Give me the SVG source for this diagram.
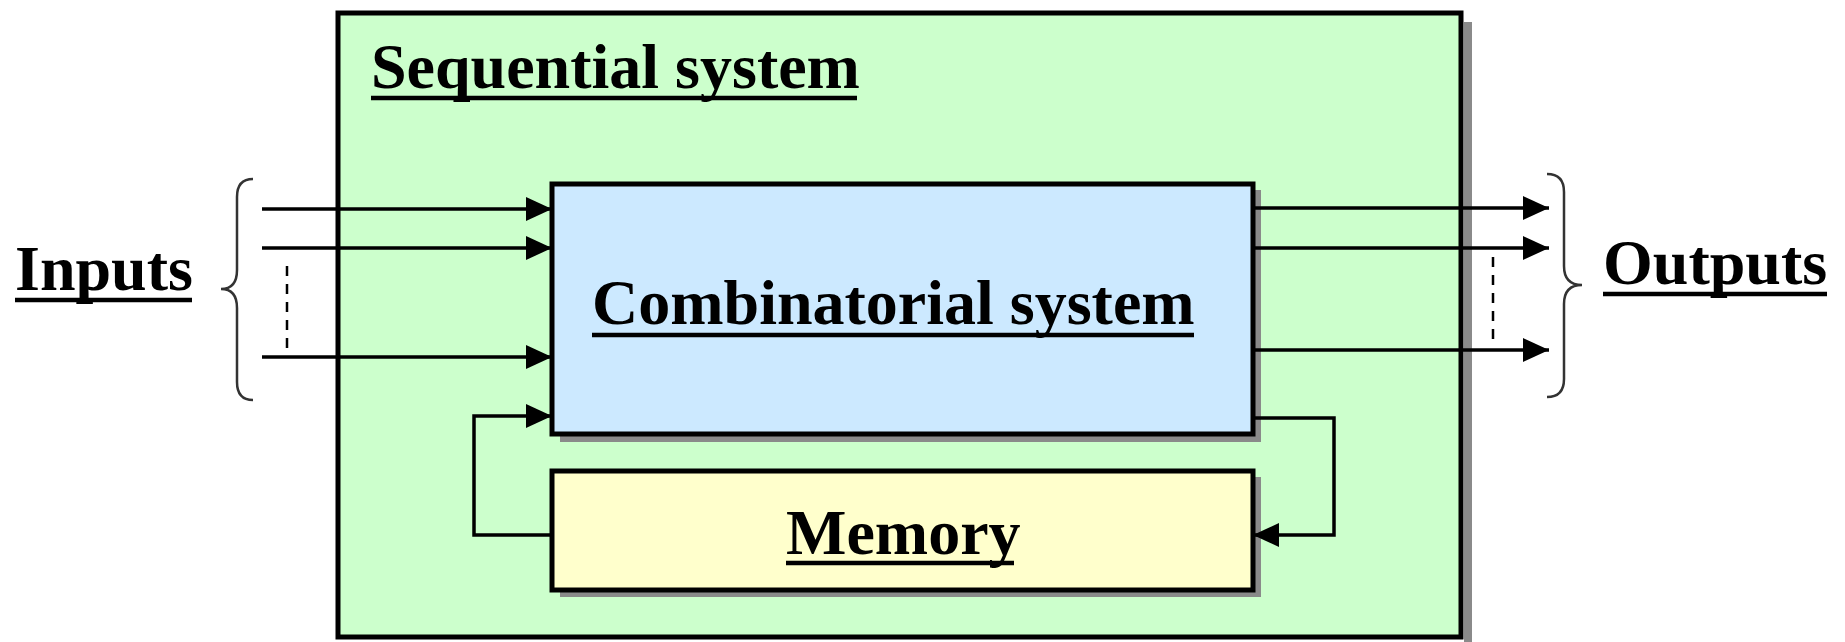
<svg xmlns="http://www.w3.org/2000/svg" width="1845" height="642" viewBox="0 0 1845 642">
<defs>
<marker id="ah" markerUnits="userSpaceOnUse" markerWidth="26" markerHeight="24" refX="26" refY="12" orient="auto">
<path d="M0,0 L26,12 L0,24 Z" fill="#000"/>
</marker>
</defs>
<style>
.lbl{font-family:"Liberation Serif","Times New Roman",serif;font-weight:bold;font-size:64px;fill:#000}
.ul{stroke:#000;stroke-width:4.5}
.shadow{fill:#8a8a8a}
.box{stroke:#000;stroke-width:5}
.wire{fill:none;stroke:#000;stroke-width:3.5}
.brace{fill:none;stroke:#333;stroke-width:2.5}
.dash{fill:none;stroke:#000;stroke-width:2.5;stroke-dasharray:10 8}
</style>
<rect width="1845" height="642" fill="#fff"/>

<g id="sequential-system">
<rect class="shadow" x="1464" y="22" width="8" height="620"/>
<rect class="box" x="338" y="13" width="1123" height="624" fill="#CCFFCC"/>
<text class="lbl" x="371" y="88">Sequential system</text>
<line class="ul" x1="371" y1="98" x2="857" y2="98"/>
</g>

<g id="combinatorial-system">
<rect class="shadow" x="560" y="190" width="701" height="252"/>
<rect class="box" x="552" y="184" width="701" height="250" fill="#CCE9FF"/>
<text class="lbl" x="592" y="324">Combinatorial system</text>
<line class="ul" x1="592" y1="335" x2="1194" y2="335"/>
</g>

<g id="memory">
<rect class="shadow" x="560" y="477" width="701" height="120"/>
<rect class="box" x="552" y="471" width="701" height="119" fill="#FFFFCC"/>
<text class="lbl" x="786" y="554">Memory</text>
<line class="ul" x1="786" y1="563" x2="1014" y2="563"/>
</g>

<g id="inputs">
<text class="lbl" x="15" y="290">Inputs</text>
<line class="ul" x1="15" y1="300" x2="192" y2="300"/>
<path class="brace" d="M253,179 Q237,179 237,197 L237,270 Q237,289 221,289 Q237,289 237,308 L237,382 Q237,400 253,400"/>
</g>

<g id="outputs">
<text class="lbl" x="1603" y="284">Outputs</text>
<line class="ul" x1="1603" y1="294" x2="1827" y2="294"/>
<path class="brace" d="M1547,174 Q1564,174 1564,192 L1564,266 Q1564,285 1582,285 Q1564,285 1564,304 L1564,379 Q1564,397 1547,397"/>
</g>

<g id="connectors">
<line class="wire" x1="262" y1="209" x2="552" y2="209" stroke-width="5" marker-end="url(#ah)"/>
<line class="wire" x1="262" y1="248" x2="552" y2="248" marker-end="url(#ah)"/>
<line class="wire" x1="262" y1="357" x2="552" y2="357" marker-end="url(#ah)"/>
<line class="dash" x1="287" y1="266" x2="287" y2="352"/>
<line class="wire" x1="1253" y1="208" x2="1549" y2="208" stroke-width="4.5" marker-end="url(#ah)"/>
<line class="wire" x1="1253" y1="248" x2="1549" y2="248" marker-end="url(#ah)"/>
<line class="wire" x1="1253" y1="350" x2="1549" y2="350" marker-end="url(#ah)"/>
<line class="dash" x1="1493" y1="257" x2="1493" y2="340" stroke-width="3.5"/>
<path class="wire" d="M552,535 L474,535 L474,416 L552,416" marker-end="url(#ah)"/>
<path class="wire" d="M1253,418 L1334,418 L1334,535 L1253,535" marker-end="url(#ah)"/>
</g>
</svg>
